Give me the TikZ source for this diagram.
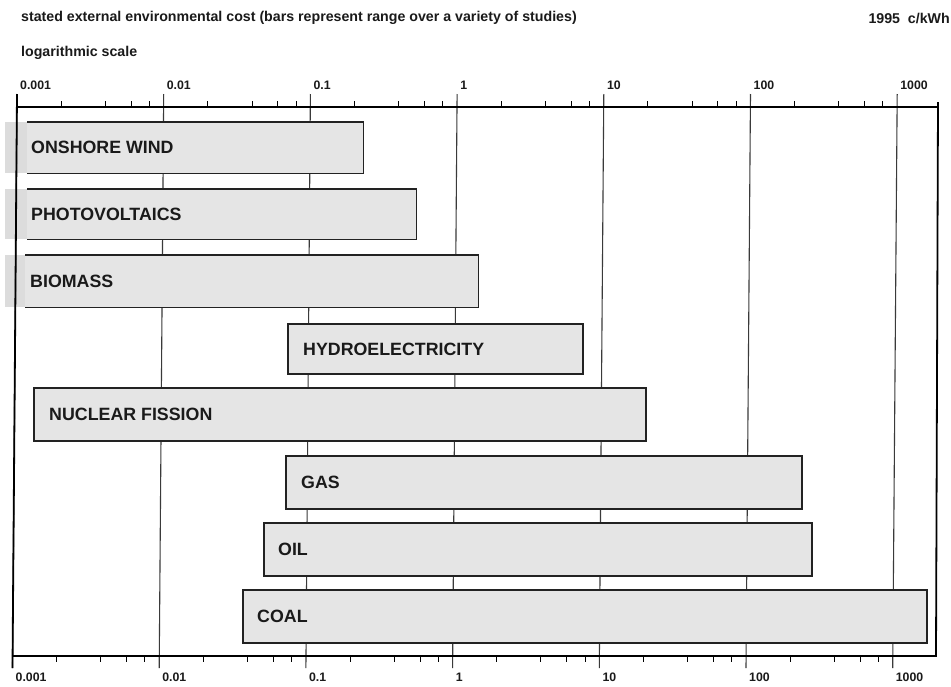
\documentclass[tikz,border=0pt]{standalone}
\usepackage{fontspec}
\setmainfont{Liberation Sans}
\definecolor{barfill}{HTML}{E5E5E5}
\definecolor{shadowfill}{HTML}{DCDCDC}
\definecolor{barline}{HTML}{222222}
\definecolor{gridc}{HTML}{3A3A3A}
\definecolor{inkc}{HTML}{1A1A1A}
\begin{document}
\begin{tikzpicture}[x=1pt,y=-1pt,
  bar/.style={anchor=north west, inner sep=0pt, fill=barfill, draw=barline, line width=1.8pt},
  openbar/.style={anchor=north west, inner sep=0pt, fill=barfill, draw=none},
  barborder/.style={draw=barline, line width=1.8pt, line join=miter},
  shadowpart/.style={fill=shadowfill, draw=none},
  barlab/.style={anchor=west, inner sep=0pt, text=inkc, font=\bfseries\fontsize{17.8}{18}\selectfont},
  gridline/.style={draw=gridc, line width=1.1pt},
  axisline/.style={draw=black, line width=1.8pt},
  minortick/.style={draw=black, line width=1pt},
  ticklab/.style={anchor=west, inner sep=0pt, text=inkc, font=\bfseries\fontsize{12.3}{13}\selectfont},
  headtext/.style={anchor=west, inner sep=0pt, text=inkc, font=\bfseries\fontsize{14.2}{15}\selectfont}]
\useasboundingbox (0,0) rectangle (951,686);
\fill[white] (0,0) rectangle (951,686);

% header texts
\node[headtext] (title) at (21,18) {stated external environmental cost (bars represent range over a variety of studies)};
\node[headtext, anchor=east] (unit) at (950,18) {1995\ \ c/kWh};
\node[headtext] (scale) at (21,53) {logarithmic scale};

% shadows left of the first three bars
\fill[shadowpart] (5,122) rectangle (27,173);
\fill[shadowpart] (5,189) rectangle (27,239);
\fill[shadowpart] (5,255) rectangle (25,307);

% grid lines, ticks and axis labels
\foreach \k/\lab in {0/0.001,1/0.01,2/0.1,3/1,4/10,5/100,6/1000} {
  \pgfmathsetmacro\xt{17+146.7*\k}
  \pgfmathsetmacro\xb{\xt-4.5}
  \draw[gridline] (\xt,94) -- (\xb,668);
  \node[ticklab] at (\xt+3,85) {\lab};
  \node[ticklab] at (\xb+3,677) {\lab};
}
\foreach \k in {0,...,5} {
  \foreach \m in {2,4,6,8} {
    \pgfmathsetmacro\xt{17+146.7*\k+146.7*log10(\m)}
    \pgfmathsetmacro\xb{\xt-4.5}
    \draw[minortick] (\xt,107) -- (\xt,101);
    \draw[minortick] (\xb,656) -- (\xb,662);
  }
}
\draw[axisline] (17,94) -- (12.5,668);
\draw[axisline] (16,107) -- (938,107);
\draw[axisline] (11.5,656) -- (937,656);
\draw[axisline] (938,102) -- (936,656);

% bars
\node[openbar, minimum width=336pt, minimum height=51pt] (wind) at (27,122) {};
\draw[barborder] (wind.north west) -- (wind.north east) -- (wind.south east) -- (wind.south west);
\node[openbar, minimum width=389pt, minimum height=50pt] (pv) at (27,189) {};
\draw[barborder] (pv.north west) -- (pv.north east) -- (pv.south east) -- (pv.south west);
\node[openbar, minimum width=453pt, minimum height=52pt] (bio) at (25,255) {};
\draw[barborder] (bio.north west) -- (bio.north east) -- (bio.south east) -- (bio.south west);
\node[bar, minimum width=295pt, minimum height=50pt] (hydro) at (287,323) {};
\node[bar, minimum width=612pt, minimum height=53pt] (nuc) at (33,387) {};
\node[bar, minimum width=516pt, minimum height=53pt] (gas) at (285,455) {};
\node[bar, minimum width=548pt, minimum height=53pt] (oil) at (263,522) {};
\node[bar, minimum width=684pt, minimum height=53pt] (coal) at (242,589) {};

% bar labels
\node[barlab] (windlab) at ([xshift=4pt]wind.west) {ONSHORE WIND};
\node[barlab] (pvlab) at ([xshift=4pt]pv.west) {PHOTOVOLTAICS};
\node[barlab] (biolab) at ([xshift=5pt]bio.west) {BIOMASS};
\node[barlab] (hydrolab) at ([xshift=16pt]hydro.west) {HYDROELECTRICITY};
\node[barlab] (nuclab) at ([xshift=16pt]nuc.west) {NUCLEAR FISSION};
\node[barlab] (gaslab) at ([xshift=16pt]gas.west) {GAS};
\node[barlab] (oillab) at ([xshift=15pt]oil.west) {OIL};
\node[barlab] (coallab) at ([xshift=15pt]coal.west) {COAL};
\end{tikzpicture}
\end{document}
